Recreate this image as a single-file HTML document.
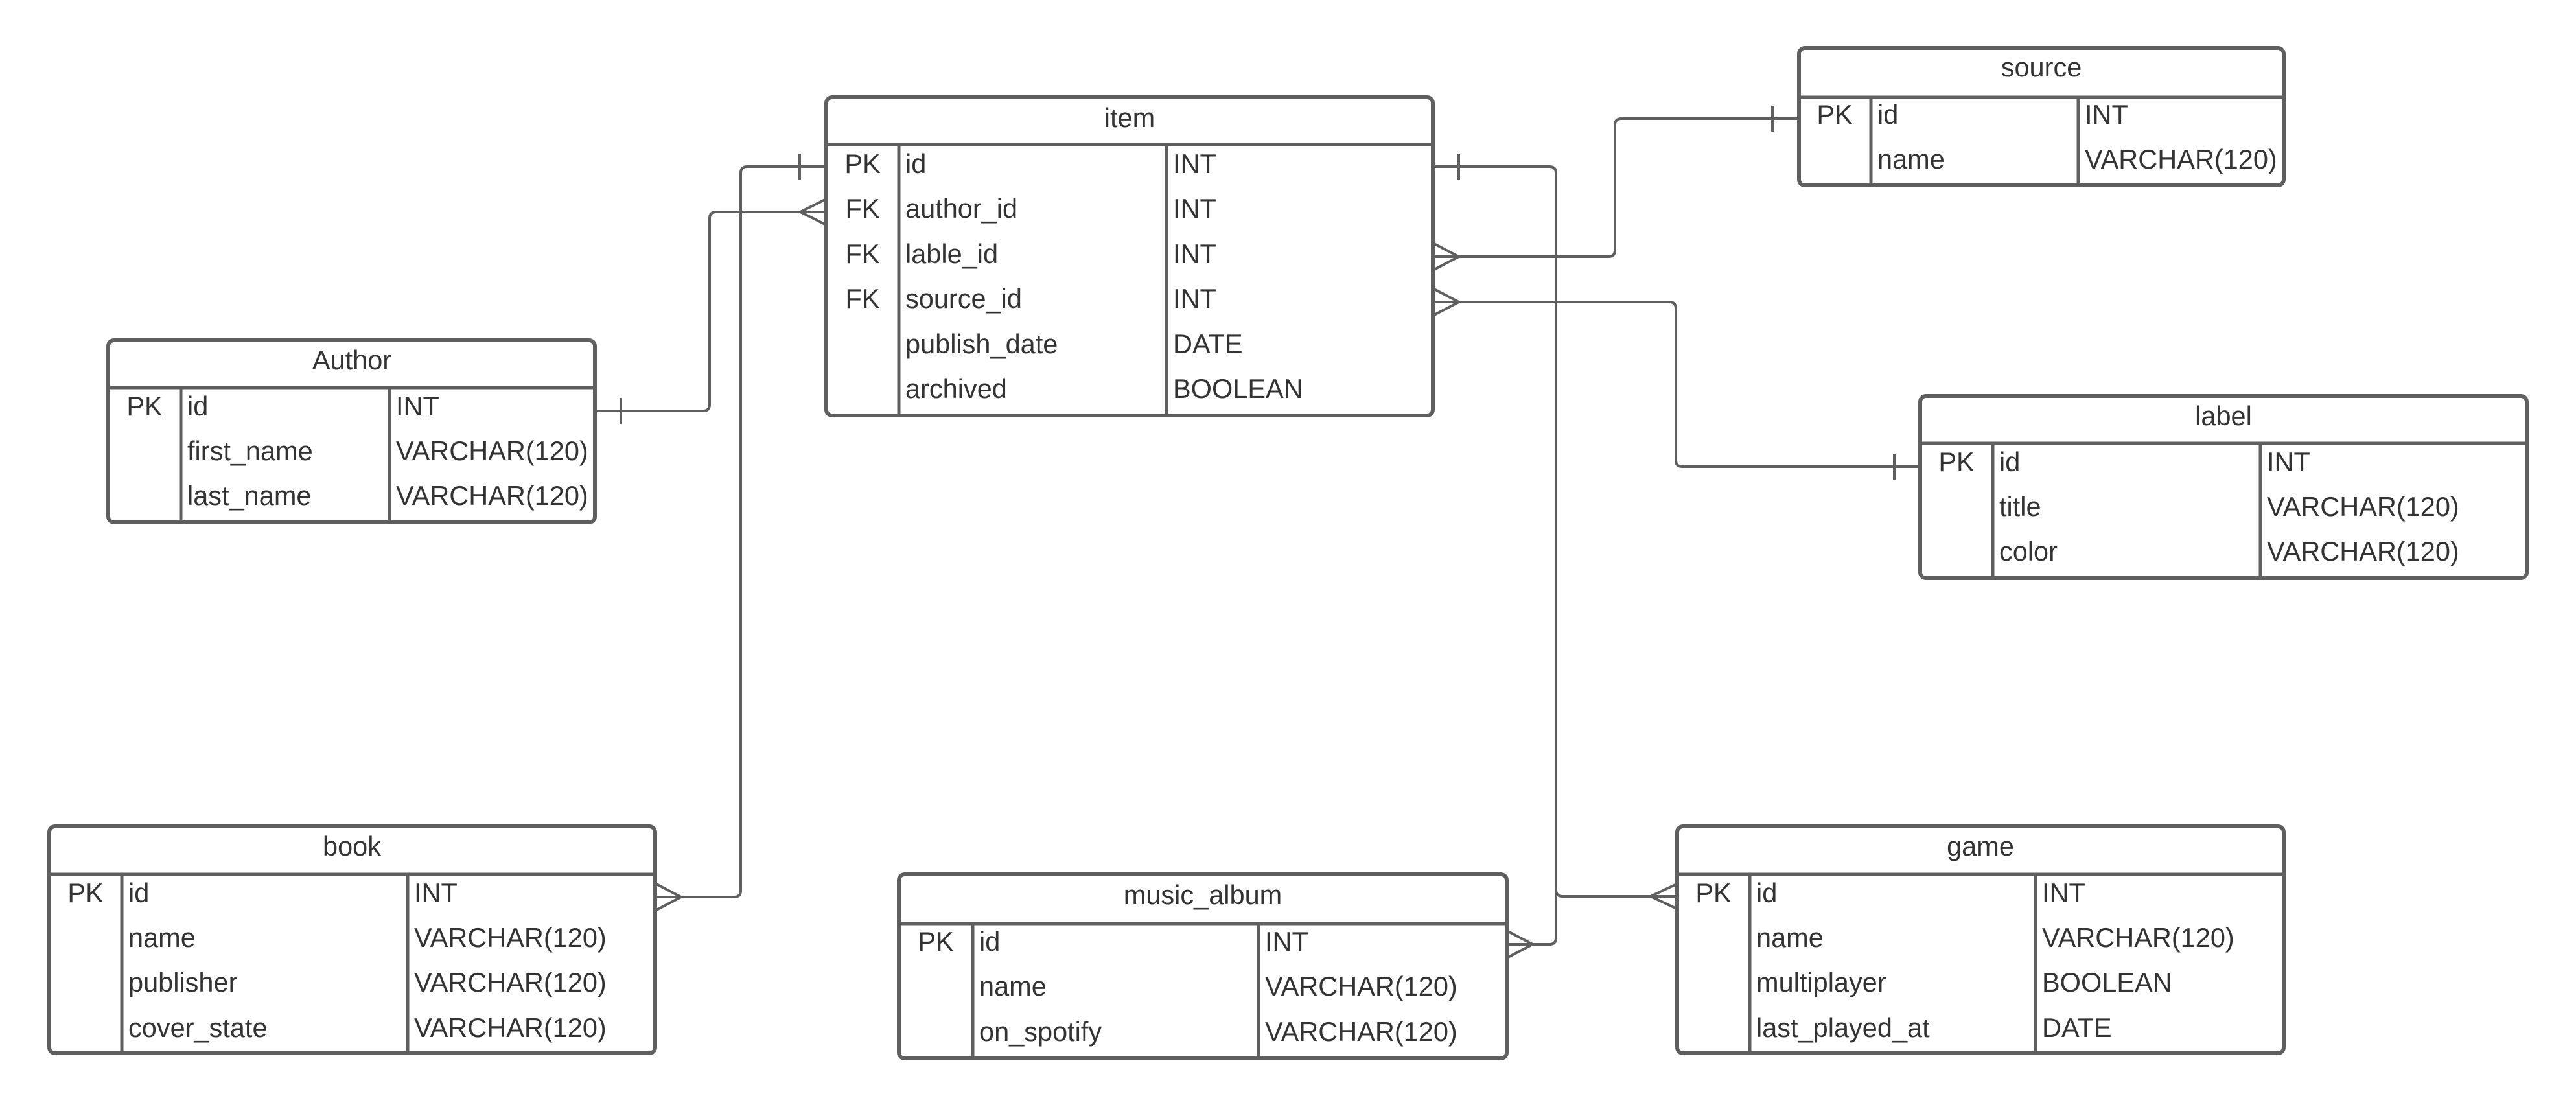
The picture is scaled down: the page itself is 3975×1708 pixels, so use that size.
<!DOCTYPE html>
<html><head><meta charset="utf-8"><style>
html,body{margin:0;padding:0;background:#fff;}
svg{display:block;}
text{font-family:"Liberation Sans",sans-serif;font-size:41.5px;fill:#333;}
.t{text-anchor:middle;}
.box{fill:#fff;stroke:#5f5f5f;stroke-width:6;}
.ln{stroke:#5f5f5f;stroke-width:5;fill:none;}
.c{stroke:#5f5f5f;stroke-width:4;fill:none;}
</style></head><body>
<svg width="3975" height="1708" viewBox="0 0 3975 1708" xmlns="http://www.w3.org/2000/svg">
<rect width="3975" height="1708" fill="#fff"/>

<path class="c" d="M918 634 H1085 Q1095 634 1095 624 V337 Q1095 327 1105 327 H1275"/>
<line class="c" x1="958" y1="614" x2="958" y2="654"/>
<path class="c" d="M1275 307 L1235 327 L1275 347"/>
<path class="c" d="M1275 257 H1153 Q1143 257 1143 267 V1374 Q1143 1384 1133 1384 H1011"/>
<line class="c" x1="1234" y1="237" x2="1234" y2="277"/>
<path class="c" d="M1013 1364 L1051 1384 L1013 1404"/>
<path class="c" d="M2211 257 H2391 Q2401 257 2401 267 V1447 Q2401 1457 2391 1457 H2325"/>
<path class="c" d="M2401 1373 Q2401 1383 2411 1383 H2587"/>
<line class="c" x1="2251" y1="237" x2="2251" y2="277"/>
<path class="c" d="M2327 1437 L2365 1457 L2327 1477"/>
<path class="c" d="M2585 1365 L2547 1383 L2585 1401"/>
<path class="c" d="M2211 396 H2482 Q2492 396 2492 386 V193 Q2492 183 2502 183 H2776"/>
<path class="c" d="M2213 376 L2251 396 L2213 416"/>
<line class="c" x1="2735" y1="163" x2="2735" y2="203"/>
<path class="c" d="M2211 466 H2576 Q2586 466 2586 476 V710 Q2586 720 2596 720 H2963"/>
<path class="c" d="M2213 446 L2251 466 L2213 486"/>
<line class="c" x1="2923" y1="700" x2="2923" y2="740"/>

<rect class="box" x="1275" y="150" width="936" height="491" rx="9"/>
<line class="ln" x1="1275" y1="223" x2="2211" y2="223"/>
<line class="ln" x1="1387" y1="223" x2="1387" y2="641"/>
<line class="ln" x1="1800" y1="223" x2="1800" y2="641"/>
<text class="t" x="1743" y="196">item</text>
<text class="t" x="1331" y="267">PK</text><text x="1397" y="267">id</text><text x="1810" y="267">INT</text>
<text class="t" x="1331" y="336">FK</text><text x="1397" y="336">author_id</text><text x="1810" y="336">INT</text>
<text class="t" x="1331" y="406">FK</text><text x="1397" y="406">lable_id</text><text x="1810" y="406">INT</text>
<text class="t" x="1331" y="475">FK</text><text x="1397" y="475">source_id</text><text x="1810" y="475">INT</text>
<text x="1397" y="545">publish_date</text><text x="1810" y="545">DATE</text>
<text x="1397" y="614">archived</text><text x="1810" y="614">BOOLEAN</text>

<rect class="box" x="2776" y="74" width="748" height="212" rx="9"/>
<line class="ln" x1="2776" y1="150" x2="3524" y2="150"/>
<line class="ln" x1="2887" y1="150" x2="2887" y2="286"/>
<line class="ln" x1="3207" y1="150" x2="3207" y2="286"/>
<text class="t" x="3150" y="118">source</text>
<text class="t" x="2831" y="191">PK</text><text x="2897" y="191">id</text><text x="3217" y="191">INT</text>
<text x="2897" y="260">name</text><text x="3217" y="260">VARCHAR(120)</text>

<rect class="box" x="167" y="525" width="751" height="281" rx="9"/>
<line class="ln" x1="167" y1="598" x2="918" y2="598"/>
<line class="ln" x1="279" y1="598" x2="279" y2="806"/>
<line class="ln" x1="601" y1="598" x2="601" y2="806"/>
<text class="t" x="543" y="570">Author</text>
<text class="t" x="223" y="641">PK</text><text x="289" y="641">id</text><text x="611" y="641">INT</text>
<text x="289" y="710">first_name</text><text x="611" y="710">VARCHAR(120)</text>
<text x="289" y="779">last_name</text><text x="611" y="779">VARCHAR(120)</text>

<rect class="box" x="2963" y="611" width="936" height="281" rx="9"/>
<line class="ln" x1="2963" y1="684" x2="3899" y2="684"/>
<line class="ln" x1="3075" y1="684" x2="3075" y2="892"/>
<line class="ln" x1="3488" y1="684" x2="3488" y2="892"/>
<text class="t" x="3431" y="656">label</text>
<text class="t" x="3019" y="727">PK</text><text x="3085" y="727">id</text><text x="3498" y="727">INT</text>
<text x="3085" y="796">title</text><text x="3498" y="796">VARCHAR(120)</text>
<text x="3085" y="865">color</text><text x="3498" y="865">VARCHAR(120)</text>

<rect class="box" x="76" y="1275" width="935" height="350" rx="9"/>
<line class="ln" x1="76" y1="1349" x2="1011" y2="1349"/>
<line class="ln" x1="188" y1="1349" x2="188" y2="1625"/>
<line class="ln" x1="629" y1="1349" x2="629" y2="1625"/>
<text class="t" x="543" y="1320">book</text>
<text class="t" x="132" y="1392">PK</text><text x="198" y="1392">id</text><text x="639" y="1392">INT</text>
<text x="198" y="1461">name</text><text x="639" y="1461">VARCHAR(120)</text>
<text x="198" y="1530">publisher</text><text x="639" y="1530">VARCHAR(120)</text>
<text x="198" y="1600">cover_state</text><text x="639" y="1600">VARCHAR(120)</text>

<rect class="box" x="1387" y="1349" width="938" height="284" rx="9"/>
<line class="ln" x1="1387" y1="1425" x2="2325" y2="1425"/>
<line class="ln" x1="1501" y1="1425" x2="1501" y2="1633"/>
<line class="ln" x1="1942" y1="1425" x2="1942" y2="1633"/>
<text class="t" x="1856" y="1395">music_album</text>
<text class="t" x="1444" y="1467">PK</text><text x="1511" y="1467">id</text><text x="1952" y="1467">INT</text>
<text x="1511" y="1536">name</text><text x="1952" y="1536">VARCHAR(120)</text>
<text x="1511" y="1606">on_spotify</text><text x="1952" y="1606">VARCHAR(120)</text>

<rect class="box" x="2588" y="1275" width="936" height="350" rx="9"/>
<line class="ln" x1="2588" y1="1349" x2="3524" y2="1349"/>
<line class="ln" x1="2700" y1="1349" x2="2700" y2="1625"/>
<line class="ln" x1="3141" y1="1349" x2="3141" y2="1625"/>
<text class="t" x="3056" y="1320">game</text>
<text class="t" x="2644" y="1392">PK</text><text x="2710" y="1392">id</text><text x="3151" y="1392">INT</text>
<text x="2710" y="1461">name</text><text x="3151" y="1461">VARCHAR(120)</text>
<text x="2710" y="1530">multiplayer</text><text x="3151" y="1530">BOOLEAN</text>
<text x="2710" y="1600">last_played_at</text><text x="3151" y="1600">DATE</text>
</svg>
</body></html>
